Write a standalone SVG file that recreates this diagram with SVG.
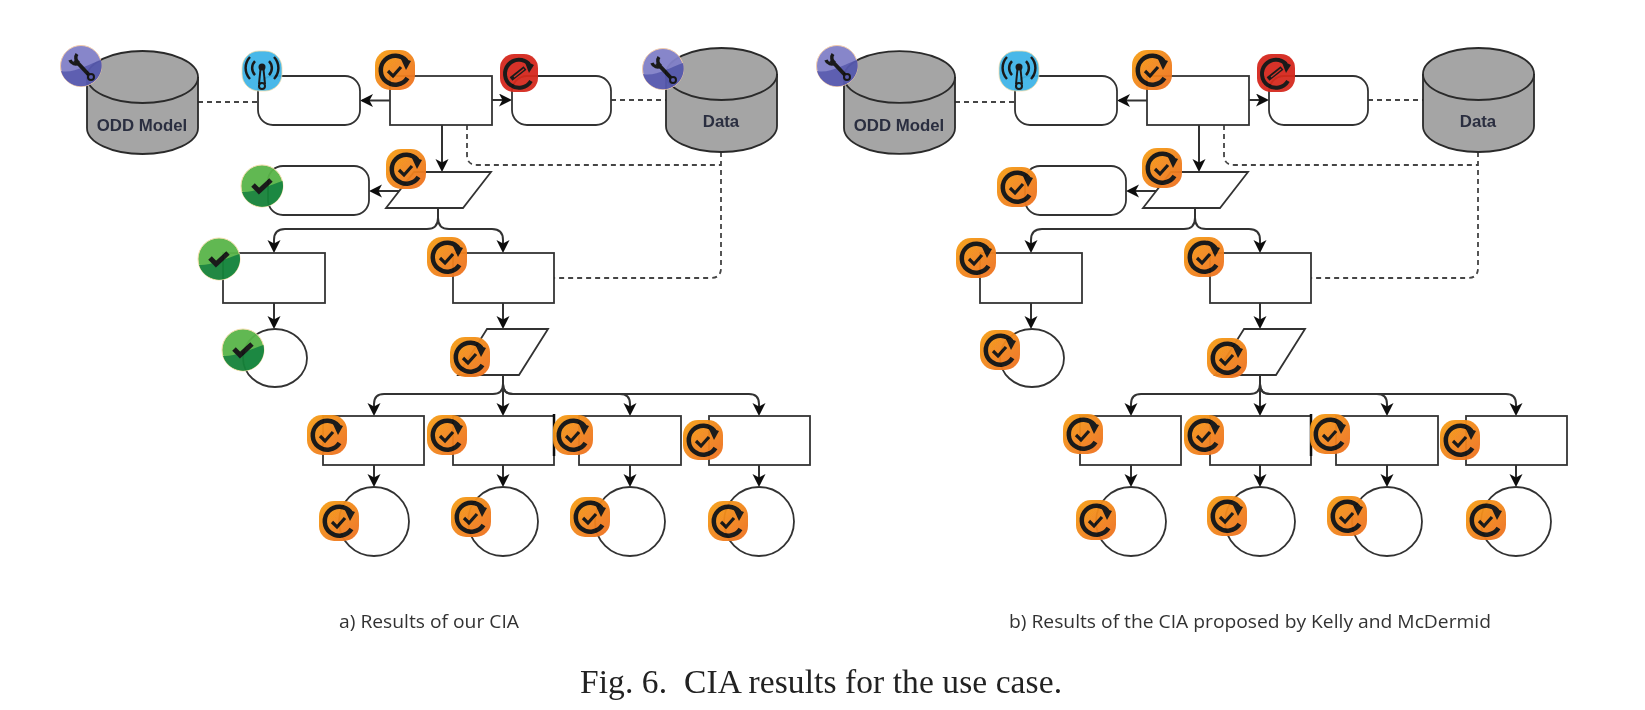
<svg xmlns="http://www.w3.org/2000/svg" xmlns:xlink="http://www.w3.org/1999/xlink" width="1645" height="710" viewBox="0 0 1645 710">
<style>
.box{fill:#fff;stroke:#333;stroke-width:1.8}
.cyl{fill:#a5a5a5;stroke:#2a2a2a;stroke-width:1.8}
.cylt{fill:none;stroke:#2a2a2a;stroke-width:1.8}
.c{fill:none;stroke:#333;stroke-width:2}
.d{fill:none;stroke:#444;stroke-width:1.8;stroke-dasharray:5 4}
.th{fill:none;stroke:#111;stroke-width:2.5}
.cl{font-family:"Liberation Sans",Arial,sans-serif;font-weight:bold;font-size:16.8px;fill:#2b2f40;text-anchor:middle}
.cap{font-family:"Open Sans",sans-serif;font-size:19px;fill:#333}
.fig{font-family:"Liberation Serif","Times New Roman",serif;font-size:33.5px;fill:#222}
.i{fill:none;stroke:#111;stroke-linecap:butt}
</style>
<defs>
<filter id="soft" x="-5%" y="-5%" width="110%" height="110%"><feGaussianBlur stdDeviation="0.55"/></filter>
<linearGradient id="go" x1="0" y1="0" x2="1" y2="1"><stop offset="0" stop-color="#f6a016"/><stop offset="1" stop-color="#ee6f22"/></linearGradient>
<marker id="ah" markerUnits="userSpaceOnUse" markerWidth="15" markerHeight="15" refX="11" refY="6.500" orient="auto"><path d="M0,0 L13,6.500 L0,13 L3.500,6.500 Z" fill="#111"/></marker>
<g id="b-orange" opacity=".95">
<rect x="-20" y="-20" width="40" height="40" rx="15" fill="url(#go)"/>
<path class="i" stroke-width="4.500" d="M11.500,-9 A14.500,14.500 0 1 0 12.500,8"/>
<path d="M5,-13 L16,-9 L11,0 Z" fill="#111"/>
<path class="i" stroke-width="3.200" d="M-7,1 L-2,6 L6,-3"/>
</g>
<g id="b-green" opacity=".95">
<circle r="21" fill="#59b548" stroke="#f3dca8" stroke-width="1"/>
<path d="M-20,6 C-10,7 6,0 20.500,-5 A21,21 0 0 1 -20,6 Z" fill="#148238"/>
<path class="i" stroke-width="5" d="M-9,-1 L-3,5 L9,-6"/>
</g>
<g id="b-wrench" opacity=".95">
<circle r="20.500" fill="#8180c8" stroke="#f0c8a8" stroke-width="1"/>
<path d="M-20,5 C-8,8 8,-2 20,-6 A20.500,20.500 0 0 1 -20,5 Z" fill="#5558ad"/>
<path class="i" stroke-width="4" d="M-6,-6 L8,9"/>
<circle cx="10" cy="11" r="3" fill="none" stroke="#111" stroke-width="2"/>
<path class="i" stroke-width="3.500" d="M-11,-6 A6,6 0 0 0 -2,-3 M-4,-12 A6,6 0 0 0 -2,-3"/>
</g>
<g id="b-wifi" opacity=".95">
<rect x="-20" y="-20" width="40" height="40" rx="17" fill="#3fb5e8" stroke="#f3dca8" stroke-width=".8"/>
<path class="i" stroke-width="2.500" d="M-7,-10 A10,10 0 0 0 -7,4 M7,-10 A10,10 0 0 1 7,4 M-12,-14 A16,16 0 0 0 -12,8 M12,-14 A16,16 0 0 1 12,8"/>
<circle cy="-4" r="3.500" fill="#111"/>
<path class="i" stroke-width="2" d="M-1.500,-2 L-3,13 M1.500,-2 L3,13"/>
<circle cy="15" r="3" fill="none" stroke="#111" stroke-width="2"/>
</g>
<g id="b-red" opacity=".95">
<rect x="-19" y="-19" width="38" height="38" rx="14" fill="#d52a1e"/>
<path class="i" stroke-width="4" d="M10,-9 A14,14 0 1 0 12,8"/>
<path d="M5,-13 L15,-8 L10,0 Z" fill="#111"/>
<path class="i" stroke-width="4.500" d="M-8,6 L6,-5"/>
<path d="M-5,4 L5,-4" stroke="#d52a1e" stroke-width="1.200" fill="none"/>
</g>
<g id="conn">
<path class="c" marker-end="url(#ah)" d="M390,100.500 H362"/>
<path class="c" marker-end="url(#ah)" d="M492,100 H510"/>
<path class="c" marker-end="url(#ah)" d="M442,125 V170"/>
<path class="c" marker-end="url(#ah)" d="M400,191 H371"/>
<path class="c" marker-end="url(#ah)" d="M438,208 V218 Q438,229 427,229 H285 Q274,229 274,240 V251"/>
<path class="c" marker-end="url(#ah)" d="M438,208 V218 Q438,229 449,229 H492 Q503,229 503,240 V251"/>
<path class="c" marker-end="url(#ah)" d="M274,303 V327"/>
<path class="c" marker-end="url(#ah)" d="M503,303 V327"/>
<path class="c" marker-end="url(#ah)" d="M503,375 V384 Q503,394 493,394 H384 Q374,394 374,404 V414"/>
<path class="c" marker-end="url(#ah)" d="M503,375 V414"/>
<path class="c" marker-end="url(#ah)" d="M503,375 V384 Q503,394 513,394 H620 Q630,394 630,404 V414"/>
<path class="c" marker-end="url(#ah)" d="M503,375 V384 Q503,394 513,394 H749 Q759,394 759,404 V414"/>
<path class="c" marker-end="url(#ah)" d="M374,465 V485"/>
<path class="c" marker-end="url(#ah)" d="M503,465 V485"/>
<path class="c" marker-end="url(#ah)" d="M630,465 V485"/>
<path class="c" marker-end="url(#ah)" d="M759,465 V485"/>
<path class="d" d="M198,102 H258"/>
<path class="d" d="M611,100 H666"/>
<path class="d" d="M467,125 V155 Q467,165 477,165 H721"/>
<path class="d" d="M721,152 V268 Q721,278 711,278 H554"/>
</g>
</defs>
<rect width="1645" height="710" fill="#fff"/>
<g filter="url(#soft)">
<g id="connectors">
<use href="#conn"/>
<use href="#conn" x="757"/>
</g>

<g id="a-odd"><path class="cyl" d="M87,77 A55.500,26 0 0 1 198,77 V128 A55.500,26 0 0 1 87,128 Z"/><path class="cylt" d="M87,77 A55.500,26 0 0 0 198,77"/><text class="cl" x="142" y="131">ODD Model</text><use href="#b-wrench" x="81" y="66"/></g>
<g id="a-sensor"><rect class="box" x="258" y="76" width="102" height="49" rx="15"/><use href="#b-wifi" x="262" y="71"/></g>
<g id="a-top"><rect class="box" x="390" y="76" width="102" height="49"/><use href="#b-orange" x="395" y="70"/></g>
<g id="a-act"><rect class="box" x="512" y="76" width="99" height="49" rx="15"/><use href="#b-red" x="519" y="73"/></g>
<g id="a-data"><path class="cyl" d="M666,74 A55.500,26 0 0 1 777,74 V126 A55.500,26 0 0 1 666,126 Z"/><path class="cylt" d="M666,74 A55.500,26 0 0 0 777,74"/><text class="cl" x="721" y="127">Data</text><use href="#b-wrench" x="663" y="69"/></g>
<g id="a-para1"><polygon class="box" points="414,172 491,172 463,208 386,208"/><use href="#b-orange" x="406" y="169"/></g>
<g id="a-round2"><rect class="box" x="268" y="166" width="101" height="49" rx="15"/><use href="#b-green" x="262" y="186"/></g>
<g id="a-rectL"><rect class="box" x="223" y="253" width="102" height="50"/><use href="#b-green" x="219" y="259"/></g>
<g id="a-rectR"><rect class="box" x="453" y="253" width="101" height="50"/><use href="#b-orange" x="447" y="257"/></g>
<g id="a-circL"><ellipse class="box" cx="275" cy="358" rx="32" ry="29"/><use href="#b-green" x="243" y="350"/></g>
<g id="a-para2"><polygon class="box" points="487,329 548,329 519,375 458,375"/><use href="#b-orange" x="470" y="357"/></g>
<g id="a-r1"><rect class="box" x="323" y="416" width="101" height="49"/><use href="#b-orange" x="327" y="435"/></g>
<g id="a-r2"><rect class="box" x="453" y="416" width="101" height="49"/><path class="th" d="M554,414 V456"/><use href="#b-orange" x="447" y="435"/></g>
<g id="a-r3"><rect class="box" x="579" y="416" width="102" height="49"/><use href="#b-orange" x="573" y="435"/></g>
<g id="a-r4"><rect class="box" x="709" y="416" width="101" height="49"/><use href="#b-orange" x="703" y="440"/></g>
<g id="a-c1"><ellipse class="box" cx="374" cy="521.500" rx="35" ry="34.500"/><use href="#b-orange" x="339" y="521"/></g>
<g id="a-c2"><ellipse class="box" cx="503" cy="521.500" rx="35" ry="34.500"/><use href="#b-orange" x="471" y="517"/></g>
<g id="a-c3"><ellipse class="box" cx="630" cy="521.500" rx="35" ry="34.500"/><use href="#b-orange" x="590" y="517"/></g>
<g id="a-c4"><ellipse class="box" cx="759" cy="521.500" rx="35" ry="34.500"/><use href="#b-orange" x="728" y="521"/></g>

<g id="b-odd"><path class="cyl" d="M844,77 A55.500,26 0 0 1 955,77 V128 A55.500,26 0 0 1 844,128 Z"/><path class="cylt" d="M844,77 A55.500,26 0 0 0 955,77"/><text class="cl" x="899" y="131">ODD Model</text><use href="#b-wrench" x="837" y="66"/></g>
<g id="b-sensor"><rect class="box" x="1015" y="76" width="102" height="49" rx="15"/><use href="#b-wifi" x="1019" y="71"/></g>
<g id="b-top"><rect class="box" x="1147" y="76" width="102" height="49"/><use href="#b-orange" x="1152" y="70"/></g>
<g id="b-act"><rect class="box" x="1269" y="76" width="99" height="49" rx="15"/><use href="#b-red" x="1276" y="73"/></g>
<g id="b-data"><path class="cyl" d="M1423,74 A55.500,26 0 0 1 1534,74 V126 A55.500,26 0 0 1 1423,126 Z"/><path class="cylt" d="M1423,74 A55.500,26 0 0 0 1534,74"/><text class="cl" x="1478" y="127">Data</text></g>
<g id="b-para1"><polygon class="box" points="1171,172 1248,172 1220,208 1143,208"/><use href="#b-orange" x="1162" y="168"/></g>
<g id="b-round2"><rect class="box" x="1025" y="166" width="101" height="49" rx="15"/><use href="#b-orange" x="1017" y="187"/></g>
<g id="b-rectL"><rect class="box" x="980" y="253" width="102" height="50"/><use href="#b-orange" x="976" y="258"/></g>
<g id="b-rectR"><rect class="box" x="1210" y="253" width="101" height="50"/><use href="#b-orange" x="1204" y="257"/></g>
<g id="b-circL"><ellipse class="box" cx="1032" cy="358" rx="32" ry="29"/><use href="#b-orange" x="1000" y="350"/></g>
<g id="b-para2"><polygon class="box" points="1244,329 1305,329 1276,375 1215,375"/><use href="#b-orange" x="1227" y="358"/></g>
<g id="b-r1"><rect class="box" x="1080" y="416" width="101" height="49"/><use href="#b-orange" x="1083" y="434"/></g>
<g id="b-r2"><rect class="box" x="1210" y="416" width="101" height="49"/><path class="th" d="M1311,414 V456"/><use href="#b-orange" x="1204" y="435"/></g>
<g id="b-r3"><rect class="box" x="1336" y="416" width="102" height="49"/><use href="#b-orange" x="1330" y="434"/></g>
<g id="b-r4"><rect class="box" x="1466" y="416" width="101" height="49"/><use href="#b-orange" x="1460" y="440"/></g>
<g id="b-c1"><ellipse class="box" cx="1131" cy="521.500" rx="35" ry="34.500"/><use href="#b-orange" x="1096" y="520"/></g>
<g id="b-c2"><ellipse class="box" cx="1260" cy="521.500" rx="35" ry="34.500"/><use href="#b-orange" x="1227" y="516"/></g>
<g id="b-c3"><ellipse class="box" cx="1387" cy="521.500" rx="35" ry="34.500"/><use href="#b-orange" x="1347" y="516"/></g>
<g id="b-c4"><ellipse class="box" cx="1516" cy="521.500" rx="35" ry="34.500"/><use href="#b-orange" x="1486" y="520"/></g>

<text class="cap" x="339" y="628" textLength="180" lengthAdjust="spacingAndGlyphs">a) Results of our CIA</text>
<text class="cap" x="1009" y="628" textLength="482" lengthAdjust="spacingAndGlyphs">b) Results of the CIA proposed by Kelly and McDermid</text>
<text class="fig" x="580" y="693" xml:space="preserve" textLength="482" lengthAdjust="spacing">Fig. 6.  CIA results for the use case.</text>
</g>
</svg>
